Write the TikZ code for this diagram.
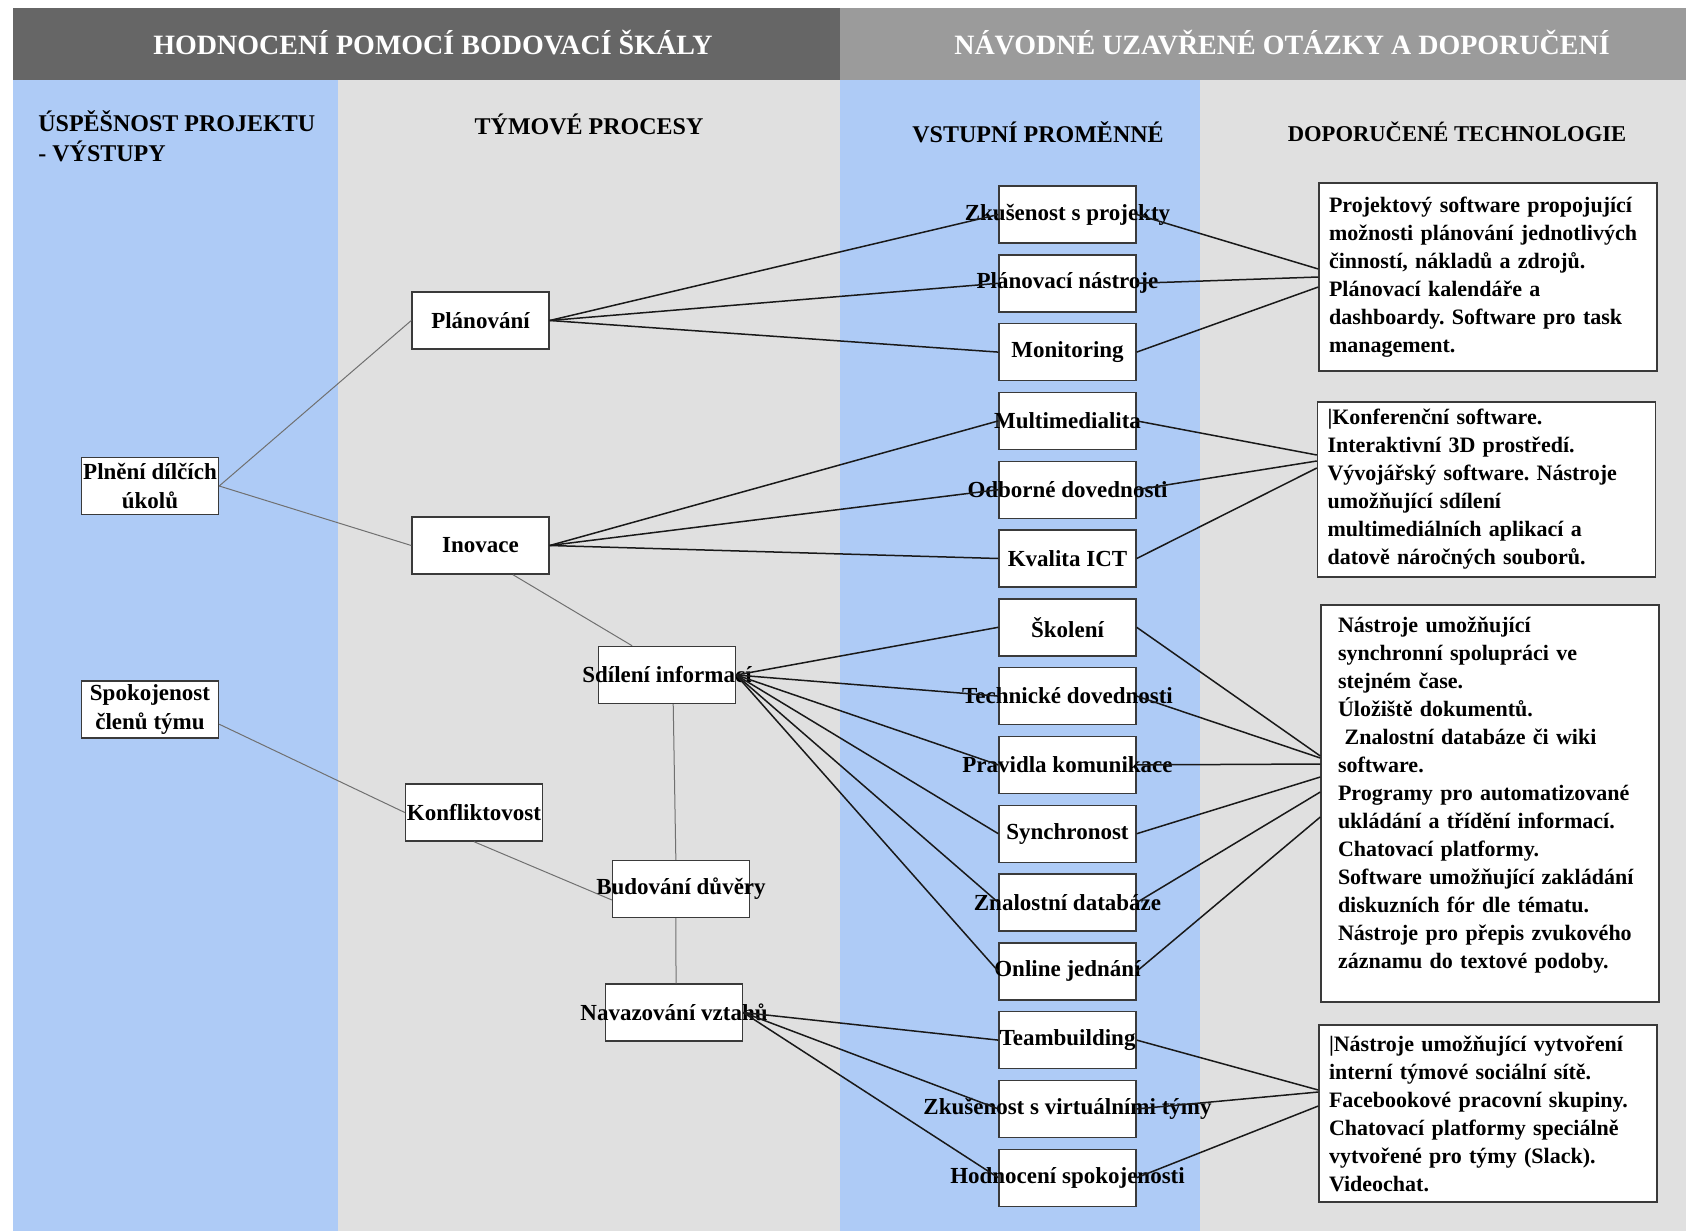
\documentclass[tikz,border=0pt]{standalone}
\usepackage{fontspec}
\setmainfont{Liberation Serif}
\usepackage{tikz}
\usetikzlibrary{calc}
\definecolor{colblue}{HTML}{AECBF6}
\definecolor{colgray}{HTML}{E0E0E0}
\definecolor{hdrdark}{HTML}{666666}
\definecolor{hdrlight}{HTML}{9B9B9B}
\definecolor{boxline}{HTML}{3A3A3A}
\definecolor{greyline}{HTML}{707070}
\newcommand{\boxtxt}[1]{\makebox[0pt]{#1}}
\frenchspacing

\begin{document}
\begin{tikzpicture}[x=0.5pt,y=-0.5pt,
  hdrtext/.style={text=white,font=\fontsize{14}{16}\selectfont\bfseries},
  coltitle/.style={inner sep=0pt,font=\fontsize{12}{15}\selectfont\bfseries},
  varbox/.style={draw=boxline,fill=white,line width=0.7pt,minimum width=68.5pt,minimum height=28.5pt,inner sep=0pt,align=center,font=\fontsize{11.5}{14.5}\selectfont\bfseries},
  techbox/.style={draw=boxline,fill=white,line width=0.7pt,inner xsep=5pt,inner ysep=0pt,text width=159pt,align=left,font=\fontsize{11}{14}\selectfont\bfseries},
  darklink/.style={draw=black!90,line width=0.75pt},
  greylink/.style={draw=greyline,line width=0.5pt}]
\useasboundingbox (0,0) rectangle (1686,1231);
\fill[hdrdark] (13,8) rectangle (840,80);
\fill[hdrlight] (840,8) rectangle (1686,80);
\fill[colblue] (13,80) rectangle (338,1231);
\fill[colgray] (338,80) rectangle (840,1231);
\fill[colblue] (840,80) rectangle (1200,1231);
\fill[colgray] (1200,80) rectangle (1686,1231);
\node[hdrtext] (hdrscale) at (433,43) {HODNOCENÍ POMOCÍ BODOVACÍ ŠKÁLY};
\node[hdrtext] (hdrquest) at (1282,43) {NÁVODNÉ UZAVŘENÉ OTÁZKY A DOPORUČENÍ};
\node[coltitle,anchor=west,align=left] (titleout) at (38,136) {ÚSPĚŠNOST PROJEKTU\\- VÝSTUPY};
\node[coltitle] (titleproc) at (589,124) {TÝMOVÉ PROCESY};
\node[coltitle] (titlevar) at (1038,132) {VSTUPNÍ PROMĚNNÉ};
\node[coltitle,font=\fontsize{11.3}{14}\selectfont\bfseries] (titletech) at (1457,132) {DOPORUČENÉ TECHNOLOGIE};

\node[varbox] (plneni) at (150,486) {Plnění dílčích\\úkolů};
\node[varbox] (spokojenost) at (150,709.5) {Spokojenost\\členů týmu};
\node[varbox] (planovani) at (480.5,320.5) {\boxtxt{Plánování}};
\node[varbox] (inovace) at (480.5,545.5) {\boxtxt{Inovace}};
\node[varbox] (sdileni) at (667,675) {\boxtxt{Sdílení informací}};
\node[varbox] (konflikt) at (474,812.5) {\boxtxt{Konfliktovost}};
\node[varbox] (budovani) at (681,889) {\boxtxt{Budování důvěry}};
\node[varbox] (navazovani) at (674,1012.5) {\boxtxt{Navazování vztahů}};

\foreach \name/\txt [count=\i from 0] in {zkusproj/Zkušenost s projekty,plannastr/Plánovací nástroje,monitor/Monitoring,multimedia/Multimedialita,odborne/Odborné dovednosti,kvalita/Kvalita ICT,skoleni/Školení,technicke/Technické dovednosti,pravidla/Pravidla komunikace,synchro/Synchronost,znalost/Znalostní databáze,online/Online jednání,teamb/Teambuilding,zkusvirt/Zkušenost s virtuálními týmy,hodnoceni/Hodnocení spokojenosti}
  \node[varbox] (\name) at (1067.5,214.5+68.8*\i) {\boxtxt{\txt}};

\node[techbox,minimum height=94pt] (techA) at (1488,277) {Projektový software propojující\\možnosti plánování jednotlivých\\činností, nákladů a zdrojů.\\Plánovací kalendáře a\\dashboardy. Software pro task\\management.};
\node[techbox,minimum height=87.5pt] (techB) at (1486.5,489.5) {|Konferenční software.\\Interaktivní 3D prostředí.\\Vývojářský software. Nástroje\\umožňující sdílení\\multimediálních aplikací a\\datově náročných souborů.};
\node[techbox,minimum height=198.5pt,inner xsep=8.5pt,text width=152pt] (techC) at (1490,803.5) {Nástroje umožňující\\synchronní spolupráci ve\\stejném čase.\\Úložiště dokumentů.\\\hspace*{0.3em}Znalostní databáze či wiki\\software.\\Programy pro automatizované\\ukládání a třídění informací.\\Chatovací platformy.\\Software umožňující zakládání\\diskuzních fór dle tématu.\\Nástroje pro přepis zvukového\\záznamu do textové podoby.\rule[-11pt]{0pt}{11pt}};
\node[techbox,minimum height=88.5pt] (techD) at (1488,1113.5) {|Nástroje umožňující vytvoření\\interní týmové sociální sítě.\\Facebookové pracovní skupiny.\\Chatovací platformy speciálně\\vytvořené pro týmy (Slack).\\Videochat.};

\draw[greylink] (plneni.east) -- (planovani.west);
\draw[greylink] (plneni.east) -- (inovace.west);
\draw[greylink] (inovace.-42) -- (sdileni.140);
\draw[greylink] (sdileni.-78) -- (budovani.100);
\draw[greylink] (budovani.-100) -- (navazovani.86);
\draw[greylink] (spokojenost.-12) -- (konflikt.west);
\draw[greylink] (konflikt.south) -- (budovani.189);

\foreach \a/\b in {planovani/zkusproj,planovani/plannastr,planovani/monitor,inovace/multimedia,inovace/odborne,inovace/kvalita,sdileni/skoleni,sdileni/technicke,sdileni/pravidla,sdileni/synchro,sdileni/znalost,sdileni/online,navazovani/teamb,navazovani/zkusvirt,navazovani/hodnoceni}
  \draw[darklink] (\a.east) -- (\b.west);
\foreach \a/\b/\dy in {zkusproj/techA/-8,plannastr/techA/0,monitor/techA/10,multimedia/techB/-34.5,odborne/techB/-28.5,kvalita/techB/-21.5,skoleni/techC/-47.5,technicke/techC/-45.5,pravidla/techC/-39.5,synchro/techC/-26.5,znalost/techC/-11.5,online/techC/13.5,teamb/techD/-23.5,zkusvirt/techD/-21.5,hodnoceni/techD/-7.5}
  \draw[darklink] (\a.east) -- ($(\b.west)+(0,\dy)$);
\end{tikzpicture}
\end{document}
